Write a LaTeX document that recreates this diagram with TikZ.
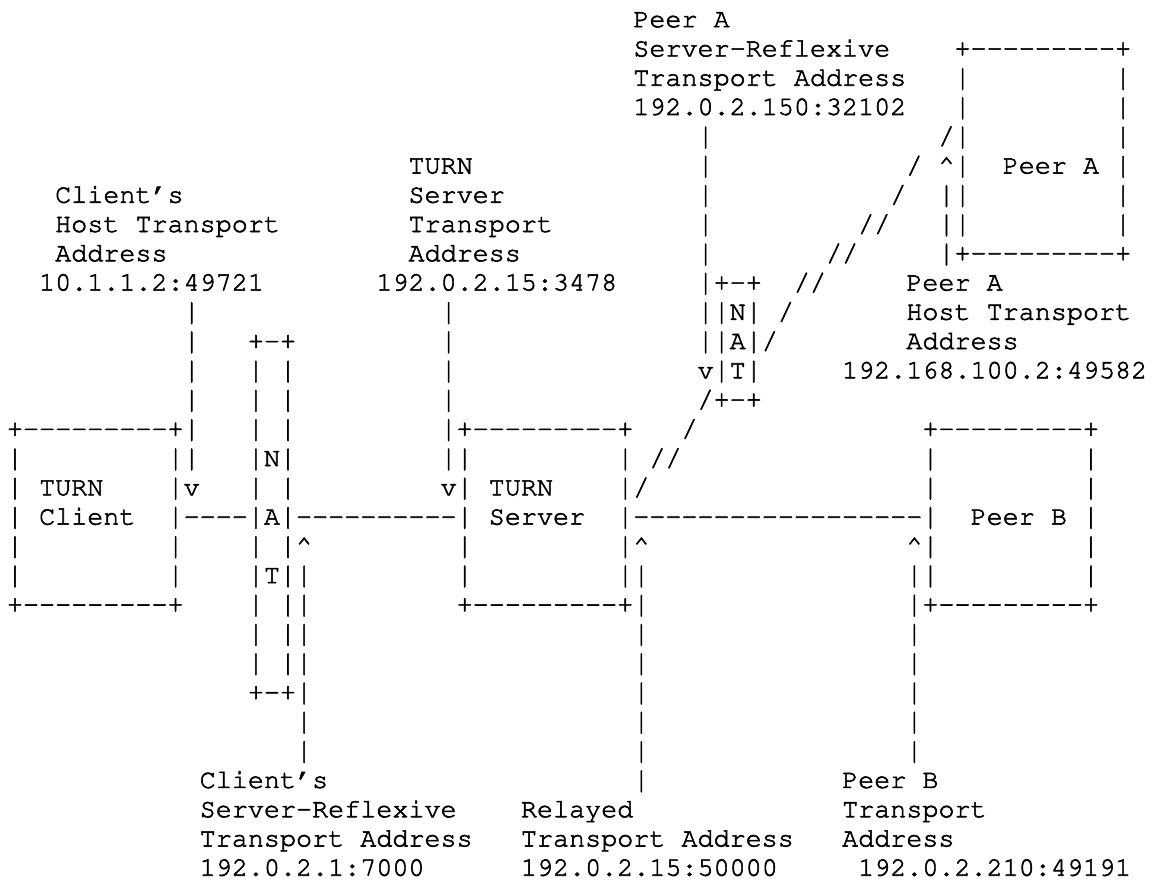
\documentclass[tikz,border=0pt]{standalone}
\usepackage[T1]{fontenc}
\usepackage{tikz}

% Courier, slightly emboldened (fill + stroke)
\newcommand\asciifont{\fontencoding{T1}\fontfamily{pcr}\fontsize{13.38}{14.63}\selectfont
  \special{pdf:literal direct 2 Tr 0.28 w}}
% run of n hyphens, no ligatures
\newcommand\hrun[1]{\foreach\dd in {1,...,#1}{-}}
% bar stretched to the full line pitch, box kept at normal size
\newsavebox\barbox
\newcommand\vbar{\sbox\barbox{|}%
  \smash{\raisebox{-0.3em}{\resizebox{\wd\barbox}{1.1em}{\raisebox{\dp\barbox}{\usebox\barbox}}}}%
  \vphantom{|}}
\newcommand\gapch{\phantom{N}}
% ascii box: name, left column, top row, bottom row, inner width
\newcommand\asciibox[5]{%
  \node[ch] (#1-top) at (#2,#3) {+\hrun{#5}+};
  \pgfmathtruncatemacro\ra{#3+1}\pgfmathtruncatemacro\rb{#4-1}
  \foreach \rr in {\ra,...,\rb} {
    \node[ch] (#1-l\rr) at (#2,\rr) {\vbar};
    \node[ch] (#1-r\rr) at (#2+#5+1,\rr) {\vbar};
  }
  \node[ch] (#1-bot) at (#2,#4) {+\hrun{#5}+};
}
% nat box: name, left column, top row, bottom row, letters of the side rows
\newcommand\natbox[5]{%
  \node[ch] (#1-top) at (#2,#3) {+-+};
  \pgfmathtruncatemacro\ra{#3+1}
  \foreach \lt [count=\nn from \ra] in {#5}
    \node[ch] (#1-\nn) at (#2,\nn) {\vbar\lt\vbar};
  \node[ch] (#1-bot) at (#2,#4) {+-+};
}
% vertical run of bars: name, column, first row, last row
\newcommand\vrun[4]{\foreach \rr in {#3,...,#4} \node[ch] (#1-\rr) at (#2,\rr) {\vbar};}

\begin{document}
\begin{tikzpicture}[x=8.03pt, y=-14.63pt,
    ch/.style={font=\asciifont, inner sep=0pt, outer sep=0pt, anchor=base west}]
  \useasboundingbox (-0.436,0.0704) rectangle (71.295,30.316);

  % boxes
  \asciibox{cli}{0}{15}{21}{9}
  \asciibox{srv}{28}{15}{21}{9}
  \asciibox{pb}{57}{15}{21}{9}
  \asciibox{pa}{59}{2}{9}{9}
  \natbox{nata}{15}{12}{24}{\gapch,\gapch,\gapch,N,\gapch,A,\gapch,T,\gapch,\gapch,\gapch}
  \natbox{natb}{44}{10}{14}{N,A,T}

  \node[ch] (cli-1) at (2,17) {TURN};
  \node[ch] (cli-2) at (2,18) {Client};
  \node[ch] (srv-1) at (30,17) {TURN};
  \node[ch] (srv-2) at (30,18) {Server};
  \node[ch] (pb-1) at (60,18) {Peer B};
  \node[ch] (pa-1) at (62,6) {Peer A};

  % links
  \node[ch] (cli-nata) at (11,18) {\hrun{4}};
  \node[ch] (nata-srv) at (18,18) {\hrun{10}};
  \node[ch] (srv-pb) at (39,18) {\hrun{18}};
  \foreach \cc/\rr in {58/5, 56/6, 55/7, 53/8, 54/8, 51/9, 52/9, 49/10, 50/10,
                       48/11, 47/12, 43/14, 42/15, 40/16, 41/16, 39/17}
    \node[ch] (sl-\cc-\rr) at (\cc,\rr) {/};

  % address pointers
  \vrun{hostv}{11}{11}{16}
  \node[ch] (hostv-tip) at (11,17) {v};
  \vrun{srvv}{27}{11}{16}
  \node[ch] (srvv-tip) at (27,17) {v};
  \vrun{pasv}{43}{5}{12}
  \node[ch] (pasv-tip) at (43,13) {v};
  \node[ch] (pahv-tip) at (58,6) {\textasciicircum};
  \vrun{pahv}{58}{7}{9}
  \node[ch] (csrv-tip) at (18,19) {\textasciicircum};
  \vrun{csrv}{18}{20}{26}
  \node[ch] (relv-tip) at (39,19) {\textasciicircum};
  \vrun{relv}{39}{20}{27}
  \node[ch] (pbv-tip) at (56,19) {\textasciicircum};
  \vrun{pbv}{56}{20}{26}

  % address labels
  \foreach \lbl [count=\nn from 1] in {Peer A, Server-Reflexive, Transport Address, 192.0.2.150:32102}
    \node[ch] (pasrflx-\nn) at (39,\nn) {\lbl};
  \foreach \lbl [count=\nn from 6] in {TURN, Server, Transport, Address}
    \node[ch] (srvaddr-\nn) at (25,\nn) {\lbl};
  \node[ch] (srvaddr-10) at (23,10) {192.0.2.15:3478};
  \foreach \lbl [count=\nn from 7] in {Client's, Host Transport, Address}
    \node[ch] (hostaddr-\nn) at (3,\nn) {\lbl};
  \node[ch] (hostaddr-10) at (2,10) {10.1.1.2:49721};
  \foreach \lbl [count=\nn from 10] in {Peer A, Host Transport, Address}
    \node[ch] (pahost-\nn) at (56,\nn) {\lbl};
  \node[ch] (pahost-13) at (52,13) {192.168.100.2:49582};
  \foreach \lbl [count=\nn from 27] in {Client's, Server-Reflexive, Transport Address, 192.0.2.1:7000}
    \node[ch] (clisrflx-\nn) at (12,\nn) {\lbl};
  \foreach \lbl [count=\nn from 28] in {Relayed, Transport Address, 192.0.2.15:50000}
    \node[ch] (relay-\nn) at (32,\nn) {\lbl};
  \foreach \lbl [count=\nn from 27] in {Peer B, Transport, Address}
    \node[ch] (pbaddr-\nn) at (52,\nn) {\lbl};
  \node[ch] (pbaddr-30) at (53,30) {192.0.2.210:49191};
\end{tikzpicture}
\end{document}
